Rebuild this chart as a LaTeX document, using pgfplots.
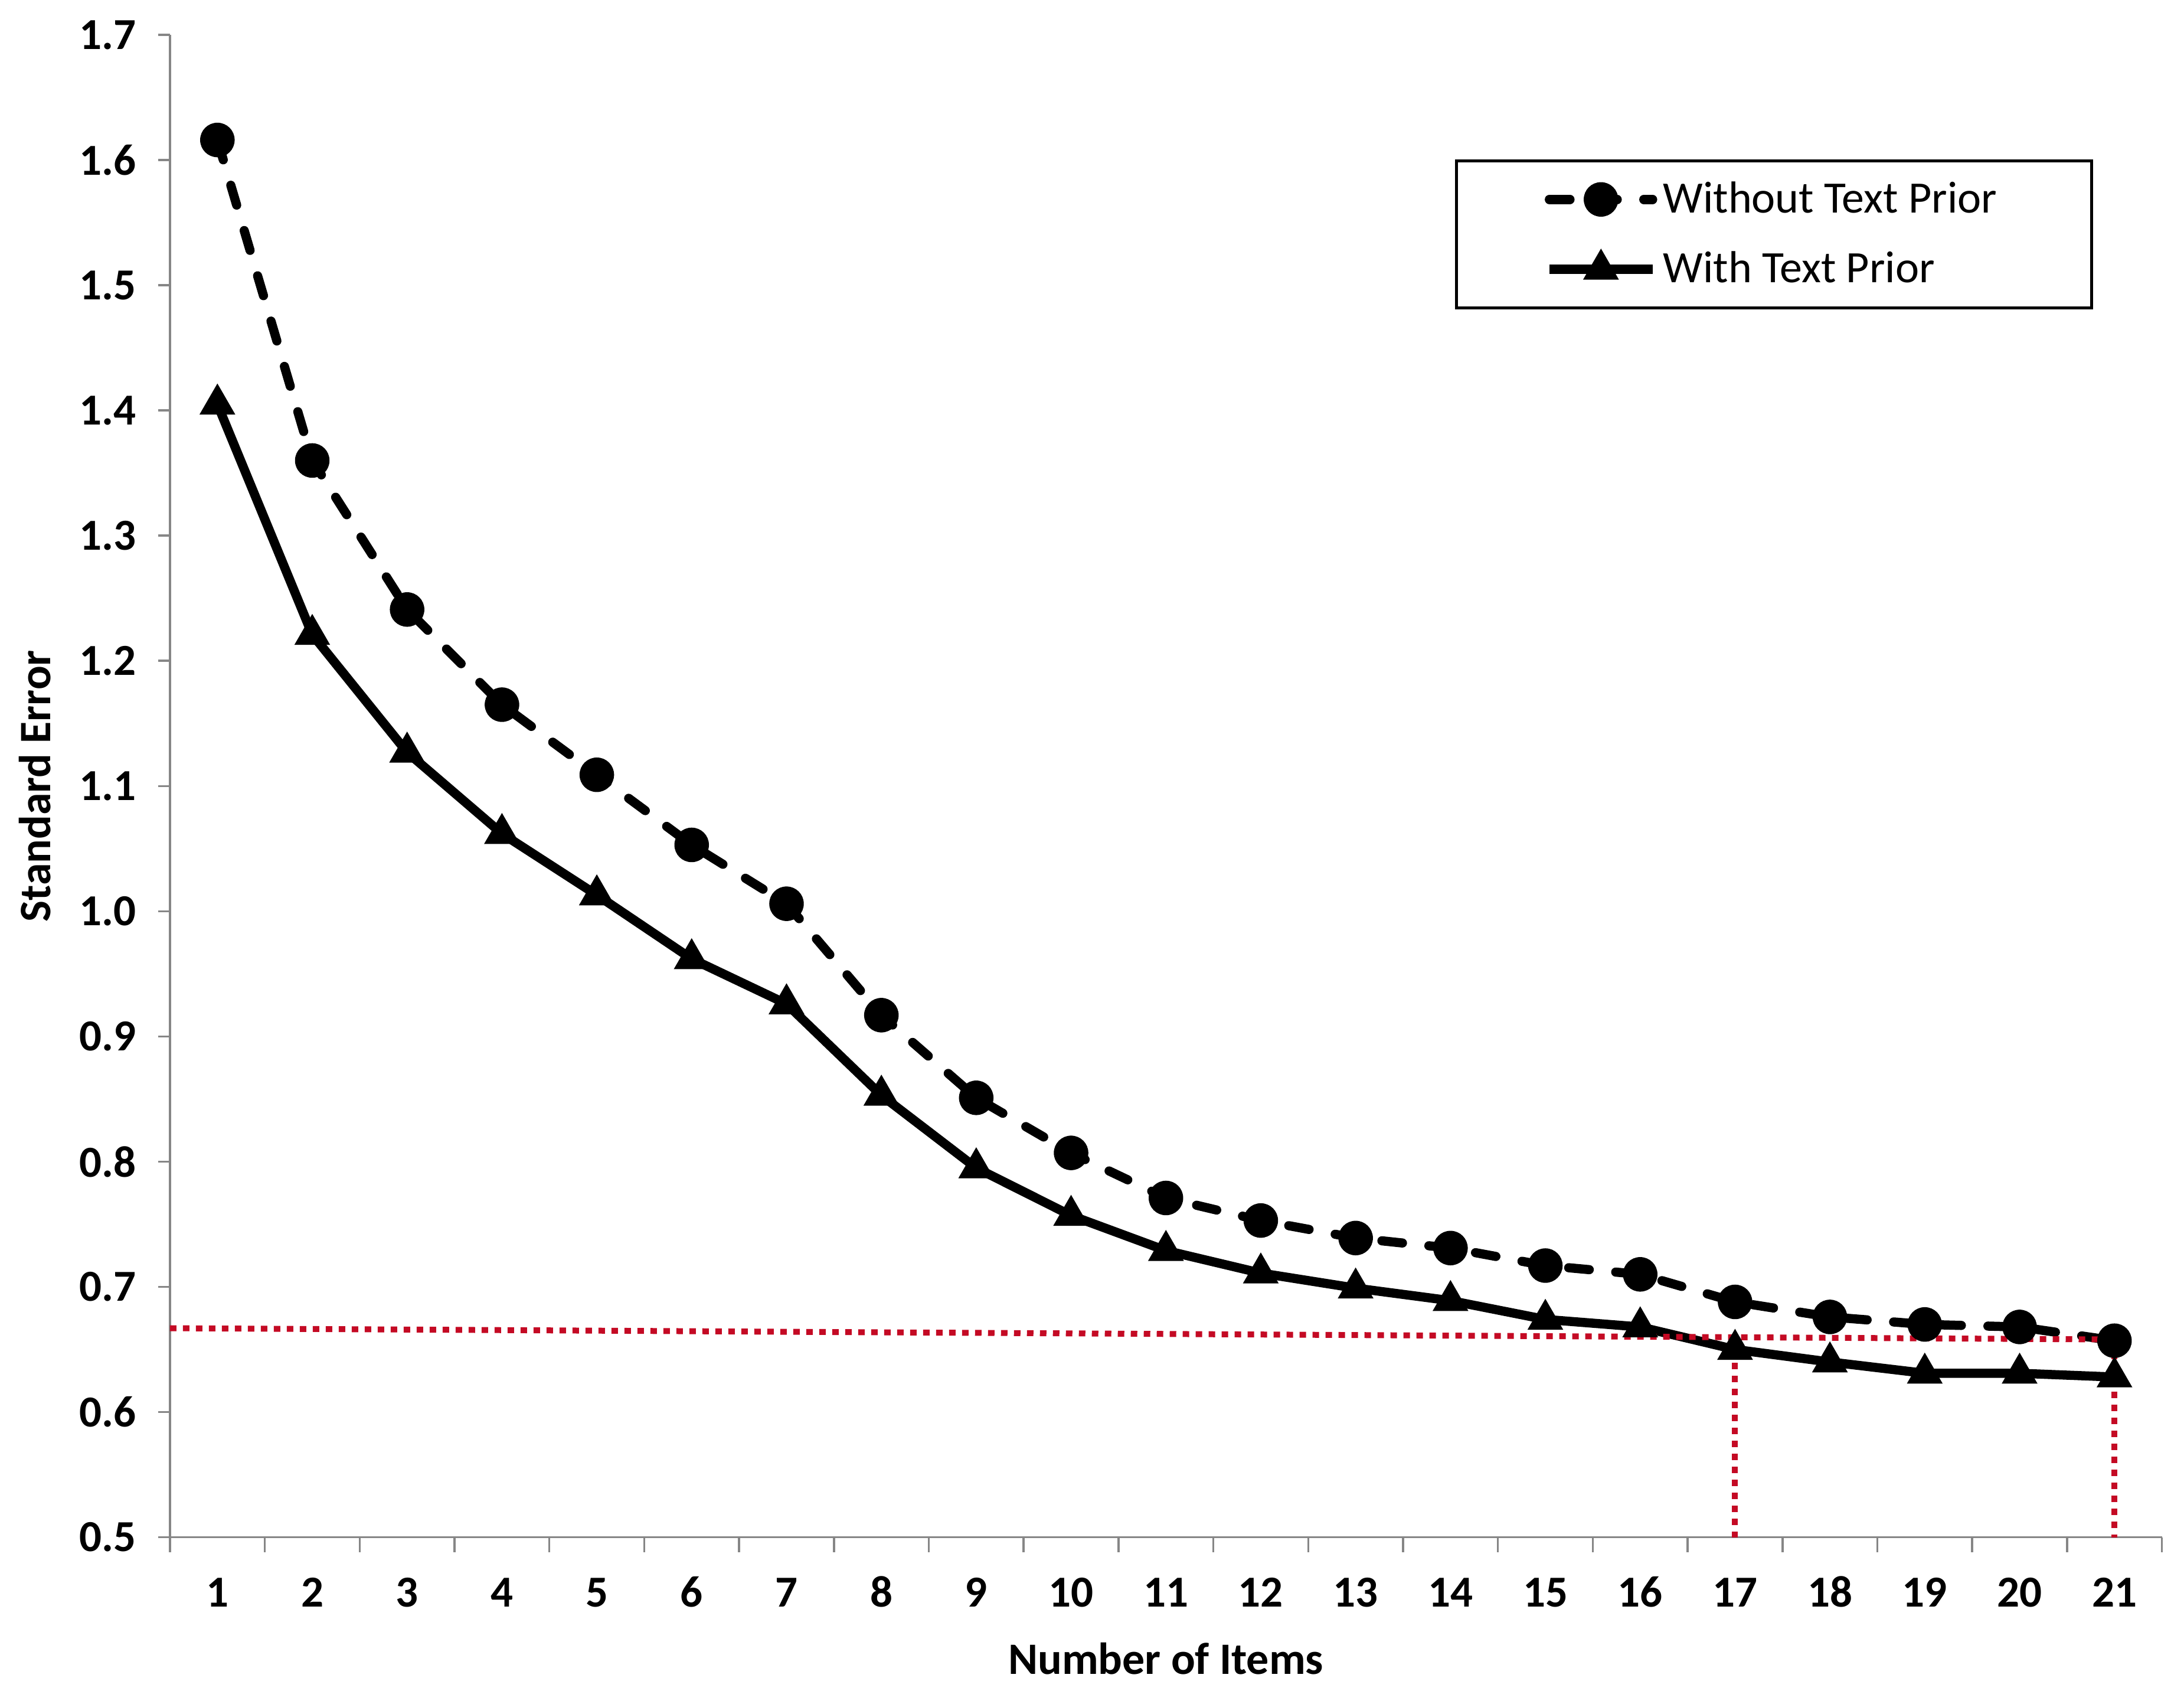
\documentclass[border=0pt]{standalone}
\usepackage{fontspec}
\setmainfont{Carlito}[Numbers=Lining]
\usepackage{pgfplots}
\pgfplotsset{compat=1.18}
\definecolor{axgray}{RGB}{134,134,134}
\definecolor{refred}{RGB}{196,10,36}
\begin{document}
\begin{tikzpicture}
\begin{axis}[
  name=ax,
  scale only axis, width=675pt, height=509pt,
  xmin=0.5, xmax=21.5, ymin=0.5, ymax=1.7,
  axis x line*=bottom, axis y line*=left,
  axis line style={axgray, line width=0.7pt},
  xtick={1,...,21},
  minor xtick={0.5,1.5,...,21.5},
  ytick={0.5,0.6,0.7,0.8,0.9,1.0,1.1,1.2,1.3,1.4,1.5,1.6,1.7},
  tick align=outside,
  major tick length=4pt, minor tick length=5pt,
  major x tick style={draw=none},
  minor x tick style={axgray, line width=0.7pt},
  major y tick style={axgray, line width=0.7pt},
  /pgf/number format/assume math mode=true,
  yticklabel style={/pgf/number format/fixed, /pgf/number format/fixed zerofill, /pgf/number format/precision=1, xshift=-4pt},
  ticklabel style={font=\fontsize{15}{17}\selectfont\bfseries},
  xticklabel style={yshift=-6pt, text height=10pt, text depth=0pt},
  xlabel={Number of Items},
  ylabel={Standard Error},
  label style={font=\fontsize{15.2}{17}\selectfont\bfseries},
  xlabel style={at={([yshift=-41pt]axis description cs:0.5,0)}, anchor=center},
  ylabel style={at={([xshift=-45.8pt]axis description cs:0,0.5)}, anchor=center},
  legend cell align=left,
  legend style={at={(0.645,0.917)}, anchor=north west, draw=black, line width=1pt,
    font=\fontsize{15.2}{18}\selectfont, inner xsep=30pt, inner ysep=5pt, row sep=7.6pt},
  legend image code/.code={\draw[mark repeat=2,mark phase=2,#1] plot coordinates {(0pt,0pt) (17.5pt,0pt) (35pt,0pt)};},
]
\addplot[black, line width=3.1pt, line cap=round, dash pattern=on 7pt off 9pt,
  mark=*, mark size=5.6pt, mark options={solid, fill=black, line width=0.5pt}]
  coordinates {
  (1,1.616) (2,1.360) (3,1.241) (4,1.165) (5,1.109) (6,1.053) (7,1.006)
  (8,0.917) (9,0.851) (10,0.807) (11,0.771) (12,0.753) (13,0.739) (14,0.731)
  (15,0.717) (16,0.710) (17,0.688) (18,0.676) (19,0.670) (20,0.668) (21,0.657)};
\addlegendentry{Without Text Prior}
\addplot[black, line width=3.1pt,
  mark=triangle*, mark size=6.5pt, mark options={solid, fill=black, line width=0.5pt}]
  coordinates {
  (1,1.405) (2,1.221) (3,1.127) (4,1.062) (5,1.013) (6,0.962) (7,0.926)
  (8,0.853) (9,0.795) (10,0.757) (11,0.729) (12,0.711) (13,0.699) (14,0.689)
  (15,0.674) (16,0.668) (17,0.650) (18,0.640) (19,0.631) (20,0.631) (21,0.628)};
\addlegendentry{With Text Prior}
\addplot[refred, line width=2pt, dash pattern=on 2.2pt off 2.2pt, forget plot]
  coordinates {(0.5,0.667) (21,0.658)};
\addplot[refred, line width=2pt, dash pattern=on 2.2pt off 2.2pt, forget plot]
  coordinates {(17,0.660) (17,0.5)};
\addplot[refred, line width=2pt, dash pattern=on 2.2pt off 2.2pt, forget plot]
  coordinates {(21,0.658) (21,0.5)};
\end{axis}
\pgfresetboundingbox
\path ([xshift=-57.6pt,yshift=-56.4pt]ax.south west) rectangle ([xshift=7.5pt,yshift=11.8pt]ax.north east);
\end{tikzpicture}
\end{document}
